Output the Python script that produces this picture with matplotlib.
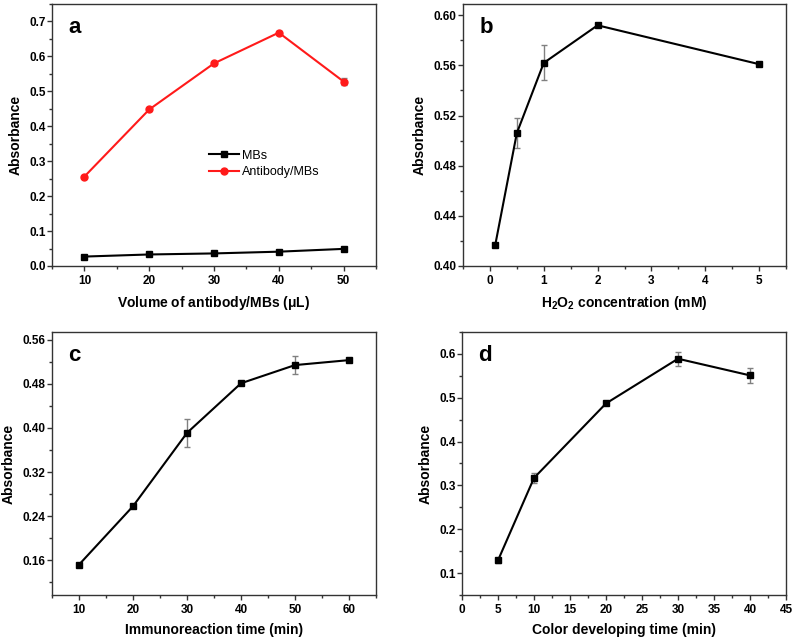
import matplotlib
matplotlib.use("Agg")
import matplotlib.pyplot as plt
from matplotlib.ticker import MultipleLocator

plt.rcParams['font.family'] = ['Liberation Sans', 'DejaVu Sans']
plt.rcParams['font.weight'] = 'bold'
plt.rcParams['mathtext.fontset'] = 'custom'
plt.rcParams['mathtext.rm'] = 'Liberation Sans'
plt.rcParams['mathtext.bf'] = 'Liberation Sans:bold'

# ---- data ----
# panel a
vol_x = [10, 20, 30, 40, 50]
mbs_y = [0.027, 0.033, 0.036, 0.041, 0.049]
mbs_err = [0.002, 0.002, 0.002, 0.002, 0.002]
ab_y = [0.256, 0.448, 0.580, 0.668, 0.528]
ab_err = [0.003, 0.004, 0.004, 0.004, 0.010]

# panel b
h2o2_x = [0.1, 0.5, 1, 2, 5]
h2o2_y = [0.417, 0.506, 0.562, 0.592, 0.561]
h2o2_err = [0.001, 0.012, 0.014, 0.001, 0.001]

# panel c
immuno_x = [10, 20, 30, 40, 50, 60]
immuno_y = [0.152, 0.258, 0.391, 0.481, 0.514, 0.523]
immuno_err = [0.003, 0.003, 0.026, 0.003, 0.017, 0.003]

# panel d
color_x = [5, 10, 20, 30, 40]
color_y = [0.129, 0.317, 0.487, 0.589, 0.551]
color_err = [0.005, 0.012, 0.004, 0.016, 0.017]

ERR_COLOR = '#808080'
SPINE_COLOR = '#333333'


def style_axes(ax, xlim, ylim, xmaj, xmin, ymaj, ymin, xlabel, letter, fmt):
    ax.set_xlim(*xlim)
    ax.set_ylim(*ylim)
    ax.xaxis.set_major_locator(MultipleLocator(xmaj))
    ax.xaxis.set_minor_locator(MultipleLocator(xmin))
    ax.yaxis.set_major_locator(MultipleLocator(ymaj))
    ax.yaxis.set_minor_locator(MultipleLocator(ymin))
    ax.yaxis.set_major_formatter(plt.FormatStrFormatter(fmt))
    ax.tick_params(which='both', direction='out', top=False, right=False,
                   labelsize=8.5, color=SPINE_COLOR)
    ax.tick_params(axis='x', pad=3)
    ax.tick_params(axis='y', pad=1)
    ax.tick_params(which='major', length=3.5, width=1)
    ax.tick_params(which='minor', length=2, width=1)
    for sp in ax.spines.values():
        sp.set_color(SPINE_COLOR)
        sp.set_linewidth(1)
    ax.set_xlabel(xlabel, fontsize=10, fontweight='bold', labelpad=5)
    ax.set_ylabel('Absorbance', fontsize=10, fontweight='bold', labelpad=5)
    ax.text(0.05, 0.89, letter, transform=ax.transAxes, fontsize=16,
            fontweight='bold', va='baseline', ha='left')
    for lab in ax.get_xticklabels() + ax.get_yticklabels():
        lab.set_fontweight('bold')


def draw_series(ax, x, y, err, color, marker, label=None, ms=4.5):
    ax.errorbar(x, y, yerr=err, fmt='none', ecolor=ERR_COLOR, elinewidth=1,
                capsize=2.5, capthick=1, zorder=2)
    ax.plot(x, y, color=color, marker=marker, markersize=ms, linewidth=1.5,
            label=label, zorder=3)


fig = plt.figure(figsize=(7.95, 6.4), dpi=100)
W, H = 795, 640


def add_ax(l, t, r, b):
    return fig.add_axes([l / W, 1 - b / H, (r - l) / W, (b - t) / H])


ax_a = add_ax(52, 4, 376, 266)
ax_b = add_ax(463, 4, 786, 266)
ax_c = add_ax(52, 332, 376, 595)
ax_d = add_ax(462, 332, 786, 595)

# a
draw_series(ax_a, vol_x, mbs_y, mbs_err, 'black', 's', 'MBs')
draw_series(ax_a, vol_x, ab_y, ab_err, '#ff1a1a', 'o', 'Antibody/MBs', ms=5)
style_axes(ax_a, (5, 55), (0, 0.75), 10, 5, 0.1, 0.05,
           r'Volume of antibody/MBs ($\mathbf{\mu}$L)', 'a', '%.1f')
leg = ax_a.legend(loc='center left', bbox_to_anchor=(0.45, 0.39),
                  frameon=False, fontsize=9, handlelength=2.4,
                  labelspacing=0.35, handletextpad=0.2)
for t in leg.get_texts():
    t.set_fontweight('normal')

# b
draw_series(ax_b, h2o2_x, h2o2_y, h2o2_err, 'black', 's')
style_axes(ax_b, (-0.5, 5.5), (0.40, 0.609), 1, 0.5, 0.04, 0.02,
           r'H$_\mathbf{2}$O$_\mathbf{2}$ concentration (mM)', 'b', '%.2f')

# c
draw_series(ax_c, immuno_x, immuno_y, immuno_err, 'black', 's')
style_axes(ax_c, (5, 65), (0.097, 0.574), 10, 5, 0.08, 0.04,
           'Immunoreaction time (min)', 'c', '%.2f')

# d
draw_series(ax_d, color_x, color_y, color_err, 'black', 's')
style_axes(ax_d, (0, 45), (0.05, 0.65), 5, 2.5, 0.1, 0.05,
           'Color developing time (min)', 'd', '%.1f')

fig.savefig('out.png', dpi=100)
